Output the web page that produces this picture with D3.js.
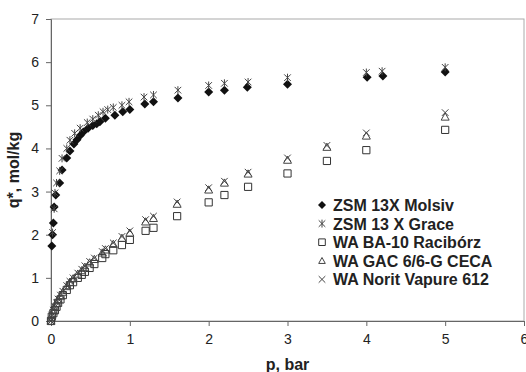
<!DOCTYPE html>
<html>
<head>
<meta charset="utf-8">
<script src="https://cdn.jsdelivr.net/npm/d3@7"></script>
<style>
  body { margin: 0; background: #fff; }
  text { font-family: "Liberation Sans", Arial, sans-serif; }
</style>
</head>
<body>
<div id="chart"></div>
<script>
const width = 526;
const height = 372;
const margin = { top: 19, right: 2, bottom: 51, left: 51 };

// ZSM 13X Molsiv
const molsivP = [0.01, 0.02, 0.03, 0.04, 0.06, 0.11, 0.14, 0.2, 0.24, 0.29, 0.33, 0.37, 0.41, 0.47, 0.53, 0.58, 0.62, 0.69, 0.81, 0.91, 1.0, 1.19, 1.3, 1.61, 2.0, 2.2, 2.49, 3.0, 4.01, 4.21, 5.0];
const molsivQ = [1.74, 2.0, 2.27, 2.64, 2.92, 3.2, 3.5, 3.78, 3.94, 4.1, 4.2, 4.3, 4.38, 4.47, 4.53, 4.57, 4.62, 4.7, 4.77, 4.85, 4.9, 5.03, 5.08, 5.17, 5.31, 5.35, 5.42, 5.49, 5.65, 5.68, 5.77];

// ZSM 13 X Grace
const graceP = [0.02, 0.04, 0.05, 0.07, 0.11, 0.14, 0.2, 0.24, 0.3, 0.37, 0.46, 0.53, 0.6, 0.66, 0.72, 0.79, 0.9, 0.99, 1.18, 1.3, 1.61, 2.0, 2.2, 2.5, 3.0, 4.0, 4.2, 5.0];
const graceQ = [2.05, 2.6, 2.97, 3.2, 3.48, 3.77, 4.0, 4.19, 4.35, 4.47, 4.6, 4.68, 4.77, 4.85, 4.9, 4.95, 5.0, 5.08, 5.19, 5.24, 5.35, 5.46, 5.51, 5.54, 5.64, 5.76, 5.79, 5.88];

// WA carbons share pressure points
const waP = [0, 0.01, 0.03, 0.05, 0.07, 0.09, 0.12, 0.15, 0.2, 0.24, 0.28, 0.34, 0.39, 0.43, 0.49, 0.55, 0.65, 0.69, 0.79, 0.9, 1.0, 1.2, 1.3, 1.6, 2.0, 2.2, 2.5, 3.0, 3.5, 4.0, 5.0];
const raciborzQ = [0, 0.1, 0.18, 0.25, 0.33, 0.42, 0.5, 0.6, 0.72, 0.83, 0.9, 1.0, 1.07, 1.14, 1.23, 1.32, 1.46, 1.55, 1.64, 1.76, 1.88, 2.09, 2.16, 2.43, 2.75, 2.92, 3.11, 3.42, 3.71, 3.96, 4.43];
const cecaQ = [0, 0.13, 0.24, 0.32, 0.41, 0.5, 0.58, 0.67, 0.8, 0.9, 0.98, 1.09, 1.17, 1.25, 1.35, 1.43, 1.58, 1.65, 1.78, 1.92, 2.04, 2.3, 2.38, 2.71, 3.04, 3.2, 3.41, 3.73, 4.03, 4.29, 4.73];
const noritQ = [0, 0.14, 0.25, 0.33, 0.42, 0.51, 0.6, 0.69, 0.82, 0.92, 1.0, 1.11, 1.2, 1.28, 1.38, 1.46, 1.61, 1.68, 1.81, 1.96, 2.09, 2.35, 2.43, 2.76, 3.09, 3.24, 3.45, 3.78, 4.07, 4.36, 4.83];

const xTicks = [0, 1, 2, 3, 4, 5, 6];
const yTicks = [0, 1, 2, 3, 4, 5, 6, 7];

const seriesNames = ["ZSM 13X Molsiv", "ZSM 13 X Grace", "WA BA-10 Racibórz", "WA GAC 6/6-G CECA", "WA Norit Vapure 612"];

// marker shapes, drawn around 0,0
const markers = {
  diamond: s => `M0,${-s}L${s},0L0,${s}L${-s},0Z`,
  star: s => `M${-s},${-s}L${s},${s}M${-s},${s}L${s},${-s}M0,${-s * 1.2}L0,${s * 1.2}`,
  square: s => `M${-s},${-s}H${s}V${s}H${-s}Z`,
  triangle: s => `M0,${-s}L${s},${s * 0.8}L${-s},${s * 0.8}Z`,
  cross: s => `M${-s},${-s}L${s},${s}M${-s},${s}L${s},${-s}`
};

const series = [
  { name: seriesNames[0], p: molsivP, q: molsivQ, shape: "diamond", size: 4.5, fill: "#111", stroke: "none" },
  { name: seriesNames[1], p: graceP, q: graceQ, shape: "star", size: 3.3, fill: "none", stroke: "#444" },
  { name: seriesNames[2], p: waP, q: raciborzQ, shape: "square", size: 3.6, fill: "none", stroke: "#333" },
  { name: seriesNames[3], p: waP, q: cecaQ, shape: "triangle", size: 4, fill: "none", stroke: "#444" },
  { name: seriesNames[4], p: waP, q: noritQ, shape: "cross", size: 3.3, fill: "none", stroke: "#444" }
];

const svg = d3.select("#chart")
  .append("svg")
  .attr("width", width)
  .attr("height", height);

const x = d3.scaleLinear().domain([0, 6]).range([margin.left, width - margin.right]);
const y = d3.scaleLinear().domain([0, 7]).range([height - margin.bottom, margin.top]);

// plot frame
svg.append("rect")
  .attr("x", x(0))
  .attr("y", y(7))
  .attr("width", x(6) - x(0))
  .attr("height", y(0) - y(7))
  .attr("fill", "none")
  .attr("stroke", "#aaa");

const xAxis = svg.append("g")
  .attr("transform", `translate(0,${y(0)})`)
  .call(d3.axisBottom(x).tickValues(xTicks).tickSize(5).tickFormat(d3.format("d")));

const yAxis = svg.append("g")
  .attr("transform", `translate(${x(0)},0)`)
  .call(d3.axisLeft(y).tickValues(yTicks).tickSize(5).tickFormat(d3.format("d")));

[xAxis, yAxis].forEach(a => {
  a.select(".domain").attr("stroke", "#666");
  a.selectAll(".tick line").attr("stroke", "#666");
  a.selectAll(".tick text")
    .attr("fill", "#222")
    .style("font-size", "14px")
    .style("font-family", "Liberation Sans, Arial, sans-serif");
});
xAxis.selectAll(".tick text").attr("dy", "1.1em");
yAxis.selectAll(".tick text").attr("x", -12);

// axis titles
svg.append("text")
  .attr("x", (x(0) + x(6)) / 2)
  .attr("y", 370)
  .attr("text-anchor", "middle")
  .attr("font-size", 16)
  .attr("font-weight", "bold")
  .attr("fill", "#222")
  .text("p, bar");

svg.append("text")
  .attr("transform", `translate(19,${(y(0) + y(7)) / 2}) rotate(-90)`)
  .attr("text-anchor", "middle")
  .attr("font-size", 16)
  .attr("font-weight", "bold")
  .attr("fill", "#222")
  .text("q*, mol/kg");

// points
series.forEach(s => {
  svg.append("g")
    .selectAll("path")
    .data(s.p.map((p, i) => [p, s.q[i]]))
    .enter()
    .append("path")
    .attr("transform", d => `translate(${x(d[0])},${y(d[1])})`)
    .attr("d", markers[s.shape](s.size))
    .attr("fill", s.fill)
    .attr("stroke", s.stroke)
    .attr("stroke-width", 1);
});

// legend
const legend = svg.append("g").attr("transform", "translate(322,205)");
const row = legend.selectAll("g")
  .data(series)
  .enter()
  .append("g")
  .attr("transform", (d, i) => `translate(0,${i * 18.6})`);

row.append("path")
  .attr("d", d => markers[d.shape](d.shape === "diamond" ? 4 : 3.3))
  .attr("fill", d => d.fill)
  .attr("stroke", d => d.stroke);

row.append("text")
  .attr("x", 11)
  .attr("y", 6)
  .attr("font-size", 16)
  .attr("font-weight", "bold")
  .attr("fill", "#222")
  .text(d => d.name);
</script>
</body>
</html>
